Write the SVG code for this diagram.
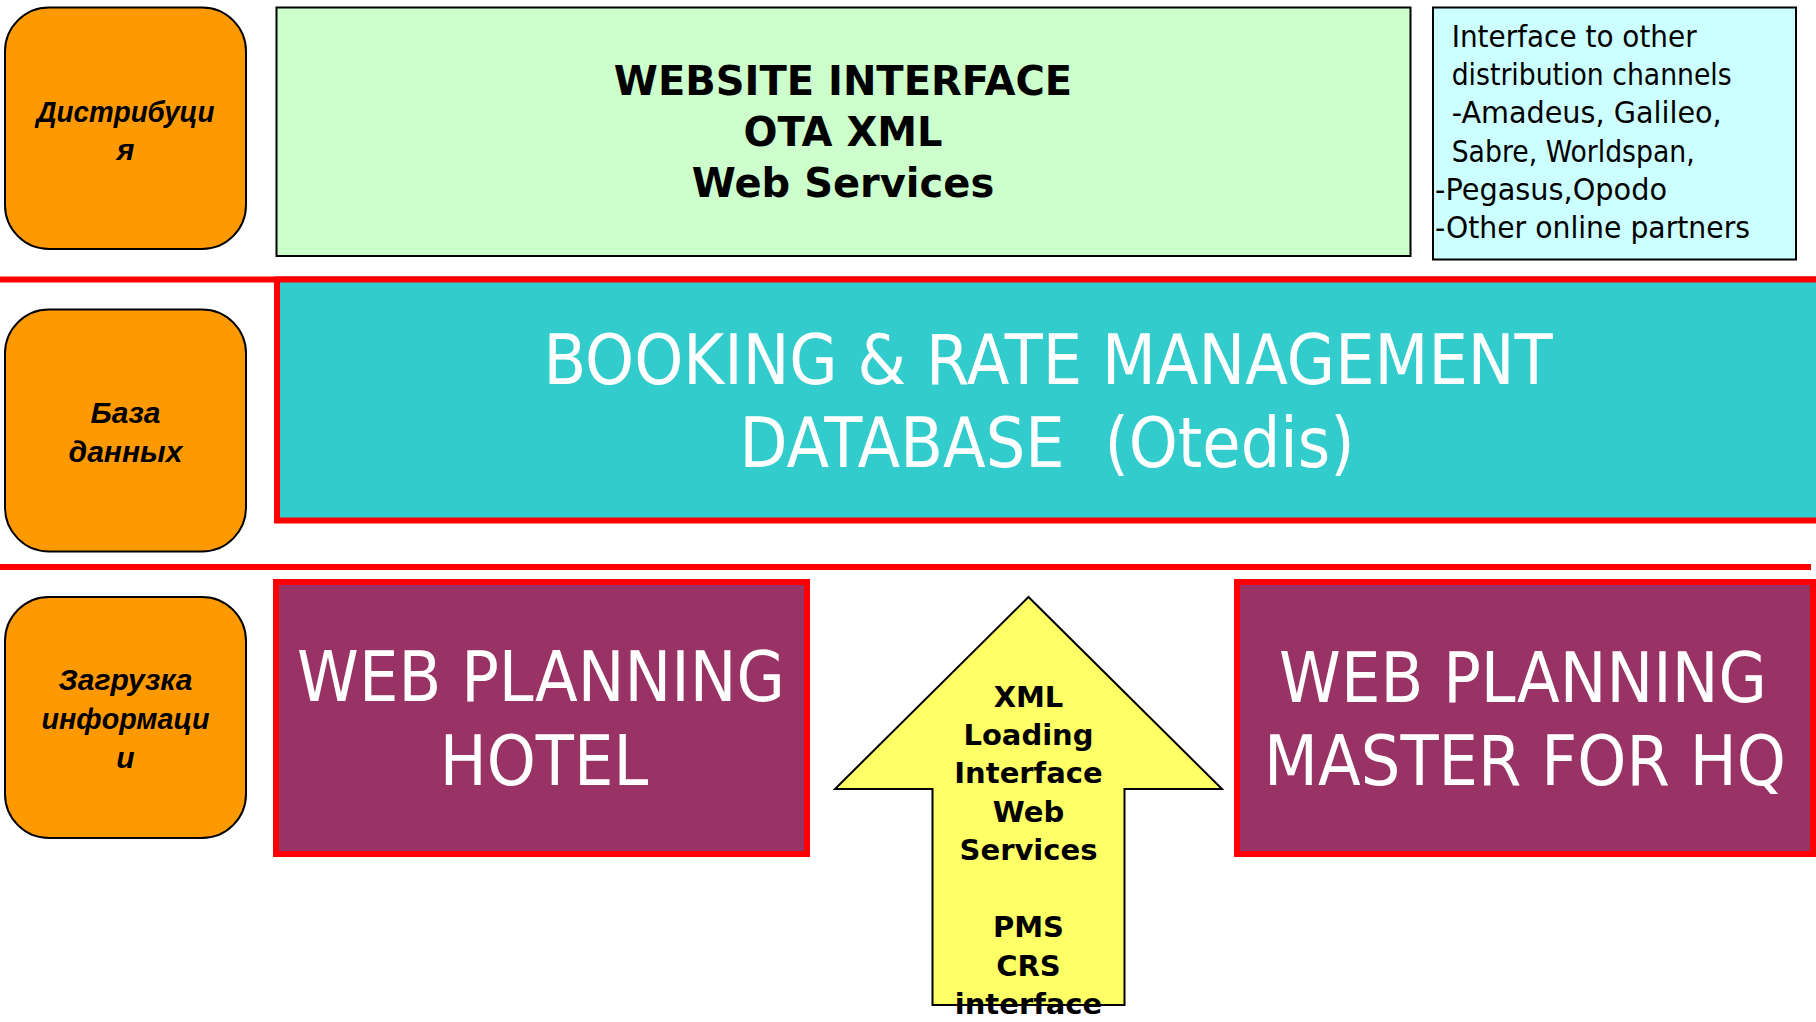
<svg xmlns="http://www.w3.org/2000/svg" width="1816" height="1022" viewBox="0 0 1816 1022">
<style>
.lbl{fill:#FF9900;stroke:#000;stroke-width:2}
.lt{font-family:"Liberation Sans",Arial,sans-serif;font-weight:bold;font-style:italic;font-size:30px;fill:#000;text-anchor:middle}
.bold{font-family:"DejaVu Sans",Verdana,sans-serif;font-weight:bold;fill:#000;text-anchor:middle}
.reg{font-family:"DejaVu Sans",Verdana,sans-serif;font-weight:normal}
.white{fill:#fff;text-anchor:middle}
.big{font-size:62.5px}
.db{font-size:62.4px}
.sep{stroke:#FF0000;stroke-width:6;fill:none}
.plan{fill:#993366;stroke:#FF0000;stroke-width:6}
</style>
<rect width="1816" height="1022" fill="#fff"/>

<g id="separators">
<line class="sep" x1="0" y1="279.5" x2="1816" y2="279.5"/>
<line class="sep" x1="0" y1="567" x2="1811" y2="567"/>
</g>

<g id="label-distribution">
<rect class="lbl" x="5" y="7.5" width="241" height="241.5" rx="44" ry="44"/>
<text class="lt" x="125.5" y="121.5" textLength="178" lengthAdjust="spacingAndGlyphs">Дистрибуци</text>
<text class="lt" x="125.5" y="160">я</text>
</g>

<g id="label-database">
<rect class="lbl" x="5" y="309.5" width="241" height="242" rx="44" ry="44"/>
<text class="lt" x="125.5" y="423">База</text>
<text class="lt" x="125.5" y="461.7">данных</text>
</g>

<g id="label-loading">
<rect class="lbl" x="5" y="597" width="241" height="241" rx="44" ry="44"/>
<text class="lt" x="125.5" y="690">Загрузка</text>
<text class="lt" x="125.5" y="729" textLength="168" lengthAdjust="spacingAndGlyphs">информаци</text>
<text class="lt" x="125.5" y="767.7">и</text>
</g>

<g id="website-interface">
<rect x="276.5" y="7.5" width="1134" height="248.5" fill="#CCFFCC" stroke="#000" stroke-width="2"/>
<text class="bold" x="843" y="95" font-size="40">WEBSITE INTERFACE</text>
<text class="bold" x="843" y="146" font-size="40">OTA XML</text>
<text class="bold" x="843" y="197" font-size="40">Web Services</text>
</g>

<g id="distribution-channels">
<rect x="1433" y="7.5" width="363" height="252" fill="#CCFFFF" stroke="#000" stroke-width="2"/>
<g class="reg" font-size="30" fill="#000">
<text x="1451.7" y="46.5" textLength="245" lengthAdjust="spacingAndGlyphs">Interface to other</text>
<text x="1451.7" y="84.9" textLength="280" lengthAdjust="spacingAndGlyphs">distribution channels</text>
<text x="1451.7" y="123.2" textLength="270" lengthAdjust="spacingAndGlyphs">-Amadeus, Galileo,</text>
<text x="1451.7" y="161.6" textLength="243" lengthAdjust="spacingAndGlyphs">Sabre, Worldspan,</text>
<text x="1435" y="200" textLength="232" lengthAdjust="spacingAndGlyphs">-Pegasus,Opodo</text>
<text x="1435" y="238.3" textLength="315" lengthAdjust="spacingAndGlyphs">-Other online partners</text>
</g>
</g>

<g id="booking-database">
<rect x="277" y="279.5" width="1560" height="241" fill="#33CCCC" stroke="#FF0000" stroke-width="6"/>
<text class="reg white db" transform="translate(1048,383.5) scale(1,1.106)" x="0" y="0">BOOKING &amp; RATE MANAGEMENT</text>
<text class="reg white db" transform="translate(1047,466.7) scale(1,1.106)" x="0" y="0" xml:space="preserve">DATABASE  (Otedis)</text>
</g>

<g id="web-planning-hotel">
<rect class="plan" x="276" y="582" width="531" height="272"/>
<text class="reg white big" transform="translate(541,701) scale(1,1.12)" x="0" y="0">WEB PLANNING</text>
<text class="reg white big" transform="translate(544,784.5) scale(1,1.12)" x="0" y="0">HOTEL</text>
</g>

<g id="web-planning-master">
<rect class="plan" x="1237" y="582" width="576" height="272"/>
<text class="reg white big" transform="translate(1523,701.5) scale(1,1.12)" x="0" y="0">WEB PLANNING</text>
<text class="reg white big" transform="translate(1525,785) scale(1,1.12)" x="0" y="0">MASTER FOR HQ</text>
</g>

<g id="xml-loading-arrow">
<polygon points="1028.5,597 1222,789 1124.5,789 1124.5,1005 932.5,1005 932.5,789 835,789" fill="#FFFF66" stroke="#000" stroke-width="2" stroke-linejoin="miter"/>
<g class="bold" font-size="29">
<text x="1028.5" y="706.5">XML</text>
<text x="1028.5" y="745">Loading</text>
<text x="1028.5" y="783.3">Interface</text>
<text x="1028.5" y="821.6">Web</text>
<text x="1028.5" y="860">Services</text>
<text x="1028.5" y="937">PMS</text>
<text x="1028.5" y="975.5">CRS</text>
<text x="1028.5" y="1013.5">interface</text>
</g>
</g>
</svg>
